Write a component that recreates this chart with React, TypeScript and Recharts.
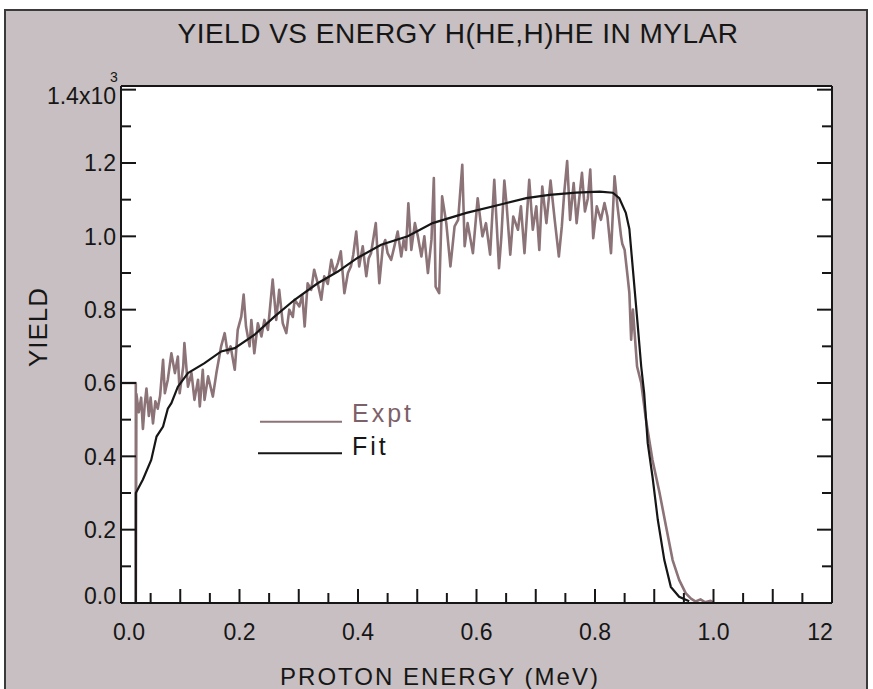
import React from 'react';
import { LineChart, Line, XAxis, YAxis, CartesianGrid, Legend } from 'recharts';

// measured yield (x10^3) against proton energy (MeV)
const exptPoints: [number, number][] = [
  [0.0, 0.6], [0.025, 0.6], [0.025, 0.0], [0.026, 0.57], [0.03, 0.52], [0.034, 0.56],
  [0.037, 0.475], [0.04, 0.54], [0.043, 0.585], [0.047, 0.51], [0.05, 0.56], [0.054, 0.49],
  [0.058, 0.55], [0.062, 0.53], [0.066, 0.565], [0.071, 0.663], [0.074, 0.572], [0.079, 0.609],
  [0.085, 0.681], [0.091, 0.627], [0.096, 0.672], [0.099, 0.572], [0.105, 0.645], [0.107, 0.709],
  [0.113, 0.59], [0.119, 0.627], [0.124, 0.554], [0.13, 0.609], [0.133, 0.536], [0.138, 0.636],
  [0.141, 0.554], [0.147, 0.618], [0.155, 0.563], [0.161, 0.627], [0.169, 0.7], [0.175, 0.736],
  [0.18, 0.681], [0.185, 0.7], [0.189, 0.663], [0.192, 0.636], [0.197, 0.745], [0.203, 0.781],
  [0.207, 0.841], [0.211, 0.754], [0.217, 0.7], [0.22, 0.772], [0.225, 0.681], [0.231, 0.763],
  [0.237, 0.727], [0.242, 0.772], [0.248, 0.745], [0.256, 0.882], [0.262, 0.772], [0.267, 0.854],
  [0.273, 0.763], [0.279, 0.736], [0.284, 0.8], [0.29, 0.78], [0.293, 0.827], [0.301, 0.809],
  [0.306, 0.84], [0.31, 0.754], [0.315, 0.872], [0.321, 0.854], [0.326, 0.909], [0.332, 0.872],
  [0.338, 0.827], [0.343, 0.891], [0.349, 0.87], [0.355, 0.936], [0.36, 0.9], [0.366, 0.927],
  [0.371, 0.959], [0.377, 0.845], [0.383, 0.9], [0.388, 0.918], [0.392, 0.95], [0.397, 1.013],
  [0.402, 0.918], [0.408, 0.973], [0.414, 0.891], [0.418, 0.94], [0.422, 0.954], [0.43, 1.036],
  [0.436, 0.872], [0.442, 0.973], [0.446, 0.99], [0.45, 0.954], [0.456, 0.936], [0.461, 0.97],
  [0.467, 1.013], [0.473, 0.945], [0.477, 0.99], [0.481, 0.963], [0.485, 1.09], [0.49, 0.963],
  [0.496, 1.036], [0.501, 1.0], [0.507, 0.945], [0.512, 1.0], [0.518, 0.9], [0.524, 0.991],
  [0.528, 1.159], [0.531, 0.863], [0.537, 0.845], [0.542, 1.109], [0.549, 1.036], [0.556, 0.918],
  [0.563, 1.027], [0.569, 1.045], [0.576, 1.195], [0.58, 0.973], [0.585, 1.036], [0.594, 0.954],
  [0.602, 1.104], [0.61, 1.0], [0.616, 1.036], [0.623, 0.95], [0.63, 1.154], [0.634, 1.036],
  [0.638, 0.913], [0.642, 1.0], [0.647, 1.152], [0.651, 1.082], [0.657, 0.95], [0.662, 1.054],
  [0.67, 1.018], [0.675, 1.082], [0.681, 0.954], [0.689, 1.154], [0.695, 1.018], [0.701, 1.082],
  [0.706, 0.963], [0.711, 1.136], [0.718, 1.036], [0.725, 1.152], [0.732, 1.045], [0.739, 0.945],
  [0.744, 1.027], [0.748, 1.118], [0.753, 1.205], [0.758, 1.045], [0.764, 1.145], [0.769, 1.036],
  [0.778, 1.173], [0.783, 1.068], [0.788, 1.104], [0.792, 1.182], [0.797, 0.995], [0.803, 1.082],
  [0.81, 1.045], [0.816, 1.091], [0.821, 1.054], [0.827, 0.954], [0.833, 1.164], [0.838, 1.082],
  [0.844, 1.0], [0.846, 0.98], [0.85, 0.963], [0.855, 0.891], [0.858, 0.846], [0.861, 0.718],
  [0.864, 0.8], [0.871, 0.645], [0.878, 0.6], [0.886, 0.5], [0.897, 0.39], [0.909, 0.3],
  [0.92, 0.208], [0.931, 0.117], [0.942, 0.063], [0.953, 0.027], [0.962, 0.012], [0.97, 0.004],
  [0.978, 0.01], [0.986, 0.002], [0.995, 0.006], [1.0, 0.0],
];

// fitted yield curve
const fitPoints: [number, number][] = [
  [0.025, 0.0], [0.025, 0.3], [0.037, 0.337], [0.051, 0.39], [0.06, 0.454], [0.071, 0.481],
  [0.079, 0.53], [0.085, 0.545], [0.096, 0.59], [0.113, 0.627], [0.141, 0.654], [0.169, 0.686],
  [0.192, 0.695], [0.225, 0.731], [0.259, 0.781], [0.293, 0.827], [0.332, 0.872], [0.366, 0.904],
  [0.399, 0.941], [0.439, 0.977], [0.484, 1.0], [0.526, 1.036], [0.583, 1.064], [0.639, 1.086],
  [0.684, 1.104], [0.723, 1.113], [0.768, 1.119], [0.808, 1.122], [0.83, 1.119], [0.841, 1.104],
  [0.852, 1.064], [0.858, 1.02], [0.864, 0.909], [0.872, 0.76], [0.878, 0.645], [0.883, 0.572],
  [0.889, 0.436], [0.897, 0.345], [0.906, 0.227], [0.917, 0.117], [0.928, 0.044], [0.942, 0.017],
  [0.959, 0.005],
];

const xTicks = [
  0, 0.05, 0.1, 0.15, 0.2, 0.25, 0.3, 0.35, 0.4, 0.45, 0.5, 0.55, 0.6,
  0.65, 0.7, 0.75, 0.8, 0.85, 0.9, 0.95, 1.0, 1.05, 1.1, 1.15, 1.2,
];
const xTickLabels = ['0.0', '0.2', '0.4', '0.6', '0.8', '1.0', '12'];
const yTicks = [0, 0.1, 0.2, 0.3, 0.4, 0.5, 0.6, 0.7, 0.8, 0.9, 1.0, 1.1, 1.2, 1.3, 1.4];
const yTickLabels = ['0.0', '0.2', '0.4', '0.6', '0.8', '1.0', '1.2', '1.4x10'];

const exptData = exptPoints.map(([e, y]) => ({ e, y }));
const fitData = fitPoints.map(([e, y]) => ({ e, y }));

const FONT = '"Liberation Sans", Arial, Helvetica, sans-serif';
const INK = '#161616';
const EXPT = '#8b7378';
const PANEL = '#c7bfc1';

const BottomTick = (props: any) => {
  const { x, y, payload } = props;
  const k = Math.round(payload.value * 20);
  const len = k % 2 === 0 ? 14 : 10;
  const label = k % 4 === 0 ? xTickLabels[k / 4] : null;
  const nudge = k === 0 ? 8 : k === 24 ? -12 : 0;
  return (
    <g>
      <line x1={x} y1={y} x2={x} y2={y - len} stroke={INK} strokeWidth={2} />
      {label && (
        <text x={x + nudge} y={y + 37} textAnchor="middle" fontSize={23} fill={INK} fontFamily={FONT}>
          {label}
        </text>
      )}
    </g>
  );
};

const TopTick = (props: any) => {
  const { x, y, payload } = props;
  const k = Math.round(payload.value * 20);
  const len = k % 2 === 0 ? 14 : 10;
  return <line x1={x} y1={y} x2={x} y2={y + len} stroke={INK} strokeWidth={2} />;
};

const LeftTick = (props: any) => {
  const { x, y, payload } = props;
  const k = Math.round(payload.value * 10);
  const len = k % 2 === 0 ? 15 : 10;
  const label = k % 2 === 0 ? yTickLabels[k / 2] : null;
  const shift = k === 0 ? -7 : k === 14 ? 6 : 0;
  return (
    <g>
      <line x1={x} y1={y} x2={x + len} y2={y} stroke={INK} strokeWidth={2} />
      {label && (
        <text x={x - 5} y={y + shift} dy="0.36em" textAnchor="end" fontSize={23} fill={INK} fontFamily={FONT}>
          {label}
        </text>
      )}
      {k === 14 && (
        <text x={x - 11} y={y - 8} fontSize={14} fill={INK} fontFamily={FONT}>
          3
        </text>
      )}
    </g>
  );
};

const RightTick = (props: any) => {
  const { x, y, payload } = props;
  const k = Math.round(payload.value * 10);
  const len = k % 2 === 0 ? 15 : 10;
  return <line x1={x} y1={y} x2={x - len} y2={y} stroke={INK} strokeWidth={2} />;
};

const KeyBox = () => (
  <svg width={190} height={70} style={{ display: 'block' }}>
    <line x1={4} y1={21.7} x2={86} y2={21.7} stroke={EXPT} strokeWidth={2} />
    <text x={96} y={22} fontSize={25} letterSpacing={3} fill="#7d6168" fontFamily={FONT}>
      Expt
    </text>
    <line x1={2} y1={53.3} x2={86} y2={53.3} stroke={INK} strokeWidth={2} />
    <text x={96} y={55} fontSize={25} letterSpacing={3} fill={INK} fontFamily={FONT}>
      Fit
    </text>
  </svg>
);

const axisLine = { stroke: INK, strokeWidth: 2 };

const App: React.FC = () => {
  return (
    <div
      style={{
        position: 'fixed',
        left: 0,
        top: 0,
        width: 873,
        height: 689,
        background: '#fff',
        overflow: 'hidden',
        fontFamily: FONT,
      }}
    >
      <div
        style={{
          position: 'absolute',
          left: 4,
          top: 9,
          width: 860,
          height: 700,
          background: PANEL,
          borderTop: '2px solid #3a3a3a',
          borderLeft: '2px solid #3a3a3a',
          borderRight: '2px solid #3a3a3a',
        }}
      />
      <div
        style={{
          position: 'absolute',
          left: 58,
          top: 20,
          width: 800,
          textAlign: 'center',
          fontSize: 28,
          lineHeight: '28px',
          letterSpacing: 0.5,
          color: INK,
          whiteSpace: 'nowrap',
        }}
      >
        YIELD VS ENERGY H(HE,H)HE IN MYLAR
      </div>
      <div
        style={{
          position: 'absolute',
          left: 38,
          top: 327,
          transform: 'translate(-50%, -50%) rotate(-90deg)',
          fontSize: 26,
          lineHeight: '26px',
          letterSpacing: 1,
          color: INK,
          whiteSpace: 'nowrap',
        }}
      >
        YIELD
      </div>
      <div
        style={{
          position: 'absolute',
          left: 240,
          top: 665,
          width: 400,
          textAlign: 'center',
          fontSize: 24,
          lineHeight: '24px',
          letterSpacing: 2,
          color: INK,
          whiteSpace: 'nowrap',
        }}
      >
        PROTON ENERGY (MeV)
      </div>
      <div style={{ position: 'absolute', left: 0, top: 0 }}>
        <LineChart width={873} height={689} margin={{ top: 0, right: 0, bottom: 0, left: 0 }}>
          <CartesianGrid fill="#fff" fillOpacity={1} horizontal={false} vertical={false} />
          <XAxis
            xAxisId={0}
            dataKey="e"
            type="number"
            domain={[0, 1.2]}
            ticks={xTicks}
            interval={0}
            height={86}
            tickSize={0}
            tickMargin={0}
            tickLine={false}
            axisLine={axisLine}
            tick={BottomTick}
            allowDataOverflow
          />
          <XAxis
            xAxisId="top"
            orientation="top"
            type="number"
            domain={[0, 1.2]}
            ticks={xTicks}
            interval={0}
            height={86}
            tickSize={0}
            tickMargin={0}
            tickLine={false}
            axisLine={axisLine}
            tick={TopTick}
            allowDataOverflow
          />
          <YAxis
            yAxisId={0}
            type="number"
            domain={[0, 1.41]}
            ticks={yTicks}
            interval={0}
            width={121}
            tickSize={0}
            tickMargin={0}
            tickLine={false}
            axisLine={axisLine}
            tick={LeftTick}
            allowDataOverflow
          />
          <YAxis
            yAxisId="right"
            orientation="right"
            type="number"
            domain={[0, 1.41]}
            ticks={yTicks}
            interval={0}
            width={41}
            tickSize={0}
            tickMargin={0}
            tickLine={false}
            axisLine={axisLine}
            tick={RightTick}
            allowDataOverflow
          />
          <Legend
            layout="vertical"
            align="center"
            verticalAlign="middle"
            wrapperStyle={{ left: 256, top: 400, width: 190 }}
            content={() => <KeyBox />}
          />
          <Line
            data={exptData}
            dataKey="y"
            name="Expt"
            type="linear"
            stroke={EXPT}
            strokeWidth={2.6}
            strokeLinejoin="round"
            dot={false}
            isAnimationActive={false}
          />
          <Line
            data={fitData}
            dataKey="y"
            name="Fit"
            type="linear"
            stroke={INK}
            strokeWidth={2.2}
            dot={false}
            isAnimationActive={false}
          />
        </LineChart>
      </div>
    </div>
  );
};

export default App;
